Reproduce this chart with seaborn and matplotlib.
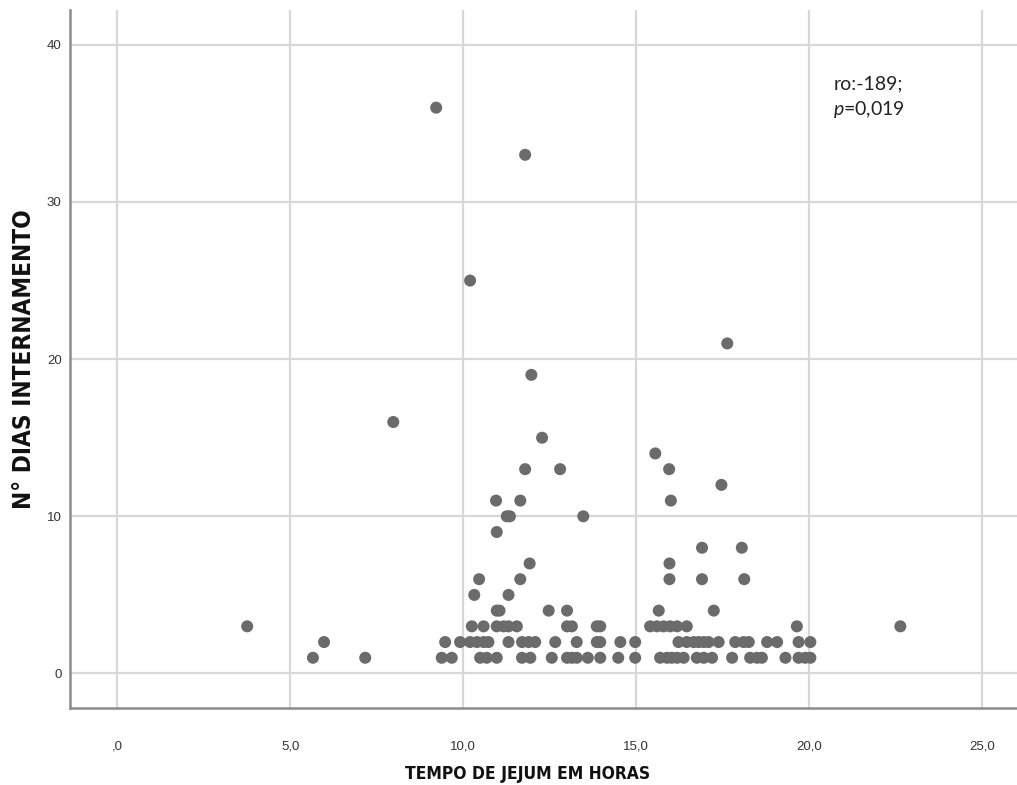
import pandas as pd
import matplotlib
matplotlib.use("Agg")
import matplotlib.pyplot as plt
import seaborn as sns

# tempo de jejum (horas) e nº de dias de internamento
tempo = [3.76, 5.66, 5.98, 7.17, 7.98, 9.22, 11.79, 10.2, 11.97, 12.28,
         11.79, 12.8, 11.65, 10.95, 11.26, 11.35, 13.47, 10.97, 11.92, 10.46,
         11.65, 10.32, 11.31, 10.97, 11.05, 12.47, 13.0,
         10.25, 10.59, 10.97, 11.17, 11.31, 11.55, 13.0, 13.14, 13.86, 13.96,
         9.48, 9.91, 10.2, 10.4, 10.59, 10.73, 11.31, 11.7, 11.89, 12.08,
         12.66, 13.28, 13.86, 13.96, 14.54, 14.97,
         9.38, 9.67, 10.49, 10.68, 10.97, 11.7, 11.94, 12.56, 13.0, 13.14,
         13.28, 13.6, 13.96, 14.48, 14.97,
         15.69, 15.89, 16.03, 16.18, 16.37, 16.75, 16.95, 17.19, 17.77, 18.29,
         18.49, 18.63, 19.31, 19.69, 19.88, 20.03,
         16.22, 16.46, 16.66, 16.8, 16.95, 17.09, 17.38, 17.86, 18.1, 18.25,
         18.78, 19.07, 19.69, 20.03,
         15.4, 15.6, 15.79, 15.98, 16.18, 16.46, 19.64, 22.63,
         15.65, 17.24, 15.96, 16.9, 18.12, 15.96, 16.9, 18.05,
         16.0, 17.46, 15.95, 15.55, 17.63]
dias = [3, 1, 2, 1, 16, 36, 33, 25, 19, 15,
        13, 13, 11, 11, 10, 10, 10, 9, 7, 6,
        6, 5, 5, 4, 4, 4, 4,
        3, 3, 3, 3, 3, 3, 3, 3, 3, 3,
        2, 2, 2, 2, 2, 2, 2, 2, 2, 2,
        2, 2, 2, 2, 2, 2,
        1, 1, 1, 1, 1, 1, 1, 1, 1, 1,
        1, 1, 1, 1, 1,
        1, 1, 1, 1, 1, 1, 1, 1, 1, 1,
        1, 1, 1, 1, 1, 1,
        2, 2, 2, 2, 2, 2, 2, 2, 2, 2,
        2, 2, 2, 2,
        3, 3, 3, 3, 3, 3, 3, 3,
        4, 4, 6, 6, 6, 7, 8, 8,
        11, 12, 13, 14, 21]

x_ticks = [0, 5, 10, 15, 20, 25]
x_labels = [",0", "5,0", "10,0", "15,0", "20,0", "25,0"]
y_ticks = [0, 10, 20, 30, 40]

df = pd.DataFrame({"tempo": tempo, "dias": dias})

sns.set_style("white")
plt.rcParams["font.family"] = ["Liberation Sans", "DejaVu Sans"]
plt.rcParams["mathtext.fontset"] = "custom"
plt.rcParams["mathtext.it"] = "Lato:italic"
plt.rcParams["mathtext.rm"] = "Lato"

fig = plt.figure(figsize=(10.17, 7.85), dpi=100)
ax = fig.add_axes([0.0688, 0.098, 0.9312, 0.889])

sns.scatterplot(data=df, x="tempo", y="dias", ax=ax, color="#6b6b6b",
                s=75, edgecolor="none", zorder=3)

ax.set_xlim(-1.36, 26.0)
ax.set_ylim(-2.2, 42.2)
ax.set_xticks(x_ticks)
ax.set_xticklabels(x_labels)
ax.set_yticks(y_ticks)
ax.grid(True, color="#d8d8d8", linewidth=1.6, zorder=0)
ax.set_axisbelow(True)

for s in ["top", "right"]:
    ax.spines[s].set_visible(False)
for s in ["left", "bottom"]:
    ax.spines[s].set_color("#8c8c8c")
    ax.spines[s].set_linewidth(1.8)

ax.tick_params(axis="x", length=0, pad=23, labelsize=9.5, colors="#333333")
ax.tick_params(axis="y", length=0, pad=6, labelsize=9.5, colors="#333333")

ax.set_xlabel("TEMPO DE JEJUM EM HORAS", fontsize=12.5, fontweight="bold",
              family="DejaVu Sans", fontstretch="condensed",
              color="#111111", labelpad=9)
ax.xaxis.set_label_coords(0.483, -0.082)
ax.set_ylabel("N° DIAS INTERNAMENTO", fontsize=17.5, fontweight="bold",
              family="DejaVu Sans", fontstretch="condensed",
              color="#111111", labelpad=8)

ax.text(0.806, 0.894, "ro:-189;", transform=ax.transAxes, fontsize=14,
        family="Lato", va="center", ha="left", color="#222222")
ax.text(0.806, 0.858, "$p$=0,019", transform=ax.transAxes, fontsize=14,
        family="Lato", va="center", ha="left", color="#222222")

plt.savefig("out.png", dpi=100)
